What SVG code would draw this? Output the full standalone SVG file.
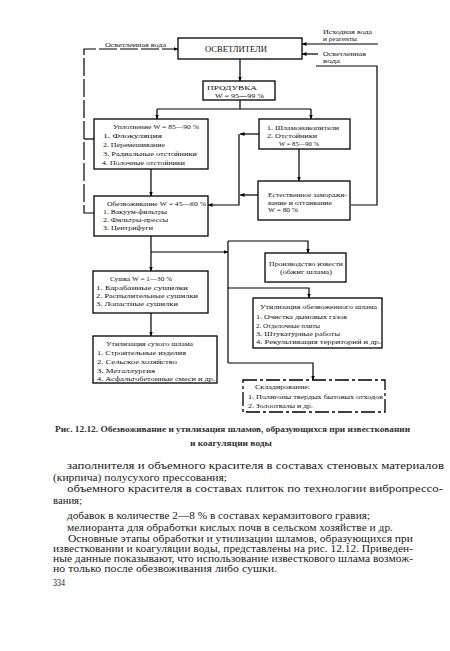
<svg xmlns="http://www.w3.org/2000/svg" width="450" height="651" viewBox="0 0 450 651">
<defs>
<marker id="ar" markerWidth="5" markerHeight="5" refX="4.5" refY="2.5" orient="auto" markerUnits="userSpaceOnUse">
<path d="M0,0.5 L4.5,2.5 L0,4.5 Z" fill="#000"/>
</marker>
</defs>
<style>
.b{fill:#fff;stroke:#000;stroke-width:1.3}
.d{stroke-dasharray:14 3 3 3}
.t{font-family:"Liberation Serif","DejaVu Serif",serif;font-size:7px;fill:#111}
.tb{font-family:"Liberation Serif","DejaVu Serif",serif;font-size:8px;fill:#111}
.c{font-family:"Liberation Serif","DejaVu Serif",serif;font-size:8.5px;font-weight:bold;fill:#333}
.p{font-family:"Liberation Serif","DejaVu Serif",serif;font-size:10.5px;fill:#222}
.l{fill:none;stroke:#000;stroke-width:1.2}
.la{fill:none;stroke:#000;stroke-width:1.2;marker-end:url(#ar)}
.ld{stroke-dasharray:18 3}
</style>
<rect width="450" height="651" fill="#fff"/>

<g id="connectors">
<path class="l" d="M94,139 H84"/>
<path class="la ld" d="M94,213 H84 V49 H178"/>
<path class="la" d="M378,44 H302"/>
<path class="la" d="M318,54 H302"/>
<path class="l" d="M351,205 H377 V66 H316"/>
<path class="la" d="M240,59 V81"/>
<path class="l" d="M240,100 V109 M157,109 H311"/>
<path class="la" d="M157,109 V119"/>
<path class="la" d="M311,109 V119"/>
<path class="la" d="M151,169 V196"/>
<path class="la" d="M259,134 H240"/>
<path class="la" d="M258,195 H240"/>
<path class="la" d="M239,134 V205 H208"/>
<path class="la" d="M299,149 V181"/>
<path class="la" d="M151,236 V271"/>
<path class="la" d="M151,252 H228"/>
<path class="l" d="M228,241 V363"/>
<path class="la" d="M228,241 H308 V253"/>
<path class="la" d="M228,288 H309 V298"/>
<path class="la" d="M228,363 H313 V380"/>
<path class="la" d="M151,313 V336"/>
</g>

<g id="n-osvetliteli">
<rect class="b" x="178" y="38" width="124" height="21"/>
<text class="tb" x="205" y="52" textLength="62" lengthAdjust="spacingAndGlyphs">ОСВЕТЛИТЕЛИ</text>
</g>
<g id="l-osv-left">
<text class="t" x="105" y="46.5" textLength="61" lengthAdjust="spacingAndGlyphs">Осветленная вода</text>
</g>
<g id="l-ishodnaya">
<text class="t" x="323" y="33.5" textLength="49" lengthAdjust="spacingAndGlyphs">Исходная вода</text>
<text class="t" x="323" y="40.5" textLength="34" lengthAdjust="spacingAndGlyphs">и реагенты</text>
</g>
<g id="l-osv-right">
<text class="t" x="323" y="56" textLength="43" lengthAdjust="spacingAndGlyphs">Осветленная</text>
<text class="t" x="323" y="63" textLength="17" lengthAdjust="spacingAndGlyphs">вода</text>
</g>

<g id="n-produvka">
<rect class="b" x="203" y="81" width="72" height="19"/>
<text class="t" x="207" y="89.5" textLength="50" lengthAdjust="spacingAndGlyphs">ПРОДУВКА</text>
<text class="t" x="215" y="97.5" textLength="49" lengthAdjust="spacingAndGlyphs">W = 95—99 %</text>
</g>

<g id="n-uplotnenie">
<rect class="b" x="94" y="119" width="114" height="50"/>
<text class="t" x="113" y="128.5" textLength="86" lengthAdjust="spacingAndGlyphs">Уплотнение W = 85—90 %</text>
<text class="t" x="103" y="137.5" textLength="59" lengthAdjust="spacingAndGlyphs">1. Флокуляция</text>
<text class="t" x="103" y="146.5" textLength="62" lengthAdjust="spacingAndGlyphs">2. Перемешивание</text>
<text class="t" x="103" y="155.5" textLength="94" lengthAdjust="spacingAndGlyphs">3. Радиальные отстойники</text>
<text class="t" x="102" y="164.5" textLength="83" lengthAdjust="spacingAndGlyphs">4. Полочные отстойники</text>
</g>

<g id="n-shlamonakopiteli">
<rect class="b" x="259" y="119" width="91" height="30"/>
<text class="t" x="267" y="129.5" textLength="72" lengthAdjust="spacingAndGlyphs">1. Шламонакопители</text>
<text class="t" x="267" y="137.5" textLength="50" lengthAdjust="spacingAndGlyphs">2. Отстойники</text>
<text class="t" x="279" y="145.5" textLength="40" lengthAdjust="spacingAndGlyphs">W = 85—90 %</text>
</g>

<g id="n-zamorazhivanie">
<rect class="b" x="258" y="181" width="92" height="39"/>
<text class="t" x="268" y="196.5" textLength="79" lengthAdjust="spacingAndGlyphs">Естественное заморажи-</text>
<text class="t" x="268" y="204.5" textLength="64" lengthAdjust="spacingAndGlyphs">вание и оттаивание</text>
<text class="t" x="268" y="211.5" textLength="30" lengthAdjust="spacingAndGlyphs">W = 80 %</text>
</g>

<g id="n-obezvozhivanie">
<rect class="b" x="94" y="196" width="114" height="40"/>
<text class="t" x="107" y="205.5" textLength="99" lengthAdjust="spacingAndGlyphs">Обезвоживание W = 45—60 %</text>
<text class="t" x="103" y="214" textLength="64" lengthAdjust="spacingAndGlyphs">1. Вакуум-фильтры</text>
<text class="t" x="103" y="222" textLength="65" lengthAdjust="spacingAndGlyphs">2. Фильтры-прессы</text>
<text class="t" x="103" y="230" textLength="50" lengthAdjust="spacingAndGlyphs">3. Центрифуги</text>
</g>

<g id="n-proizvodstvo">
<rect class="b" x="265" y="253" width="81" height="29"/>
<text class="t" x="269" y="265.5" textLength="74" lengthAdjust="spacingAndGlyphs">Производство извести</text>
<text class="t" x="280" y="273.5" textLength="52" lengthAdjust="spacingAndGlyphs">(обжиг шлама)</text>
</g>

<g id="n-sushka">
<rect class="b" x="93" y="271" width="115" height="42"/>
<text class="t" x="110" y="280.5" textLength="62" lengthAdjust="spacingAndGlyphs">Сушка W = 1—30 %</text>
<text class="t" x="96" y="289.5" textLength="92" lengthAdjust="spacingAndGlyphs">1. Барабанные сушилки</text>
<text class="t" x="96" y="297.5" textLength="102" lengthAdjust="spacingAndGlyphs">2. Распылительные сушилки</text>
<text class="t" x="96" y="305.5" textLength="82" lengthAdjust="spacingAndGlyphs">3. Лопастные сушилки</text>
</g>

<g id="n-util-obezv">
<rect class="b" x="253" y="298" width="129" height="50"/>
<text class="t" x="260" y="308.5" textLength="117" lengthAdjust="spacingAndGlyphs">Утилизация обезвоженного шлама</text>
<text class="t" x="256" y="319" textLength="91" lengthAdjust="spacingAndGlyphs">1. Очистка дымовых газов</text>
<text class="t" x="256" y="327.5" textLength="64" lengthAdjust="spacingAndGlyphs">2. Отделочные плиты</text>
<text class="t" x="256" y="335.5" textLength="84" lengthAdjust="spacingAndGlyphs">3. Штукатурные работы</text>
<text class="t" x="256" y="343.5" textLength="125" lengthAdjust="spacingAndGlyphs">4. Рекультивация территорий и др.</text>
</g>

<g id="n-util-suhogo">
<rect class="b" x="93" y="336" width="124" height="47"/>
<text class="t" x="106" y="345.5" textLength="87" lengthAdjust="spacingAndGlyphs">Утилизация сухого шлама</text>
<text class="t" x="97" y="355" textLength="89" lengthAdjust="spacingAndGlyphs">1. Строительные изделия</text>
<text class="t" x="97" y="364" textLength="80" lengthAdjust="spacingAndGlyphs">2. Сельское хозяйство</text>
<text class="t" x="97" y="372.5" textLength="58" lengthAdjust="spacingAndGlyphs">3. Металлургия</text>
<text class="t" x="97" y="380.5" textLength="118" lengthAdjust="spacingAndGlyphs">4. Асфальтобетонные смеси и др.</text>
</g>

<g id="n-skladirovanie">
<rect class="b d" x="243" y="380" width="142" height="32"/>
<text class="t" x="255" y="388.5" textLength="55" lengthAdjust="spacingAndGlyphs">Складирование:</text>
<text class="t" x="248" y="398.5" textLength="135" lengthAdjust="spacingAndGlyphs">1. Полигоны твердых бытовых отходов</text>
<text class="t" x="248" y="407.5" textLength="65" lengthAdjust="spacingAndGlyphs">2. Золоотвалы и др.</text>
</g>

<g id="caption">
<text class="c" x="55" y="432" textLength="355" lengthAdjust="spacingAndGlyphs">Рис. 12.12. Обезвоживание и утилизация шламов, образующихся при известковании</text>
<text class="c" x="190" y="446" textLength="82" lengthAdjust="spacingAndGlyphs">и коагуляции воды</text>
</g>

<g id="body">
<text class="p" x="67" y="468.5" textLength="377" lengthAdjust="spacingAndGlyphs">заполнителя и объемного красителя в составах стеновых материалов</text>
<text class="p" x="53" y="480.5" textLength="174" lengthAdjust="spacingAndGlyphs">(кирпича) полусухого прессования;</text>
<text class="p" x="67" y="491.5" textLength="376" lengthAdjust="spacingAndGlyphs">объемного красителя в составах плиток по технологии вибропрессо-</text>
<text class="p" x="53" y="503.5" textLength="29" lengthAdjust="spacingAndGlyphs">вания;</text>
<text class="p" x="67" y="518.5" textLength="303" lengthAdjust="spacingAndGlyphs">добавок в количестве 2—8 % в составах керамзитового гравия;</text>
<text class="p" x="67" y="530.5" textLength="326" lengthAdjust="spacingAndGlyphs">мелиоранта для обработки кислых почв в сельском хозяйстве и др.</text>
<text class="p" x="68" y="541.5" textLength="345" lengthAdjust="spacingAndGlyphs">Основные этапы обработки и утилизации шламов, образующихся при</text>
<text class="p" x="53" y="551.5" textLength="360" lengthAdjust="spacingAndGlyphs">известковании и коагуляции воды, представлены на рис. 12.12. Приведен-</text>
<text class="p" x="53" y="561.5" textLength="360" lengthAdjust="spacingAndGlyphs">ные данные показывают, что использование известкового шлама возмож-</text>
<text class="p" x="53" y="571.5" textLength="224" lengthAdjust="spacingAndGlyphs">но только после обезвоживания либо сушки.</text>
<text class="p" x="53" y="585.5" textLength="12" lengthAdjust="spacingAndGlyphs">334</text>
</g>
</svg>
